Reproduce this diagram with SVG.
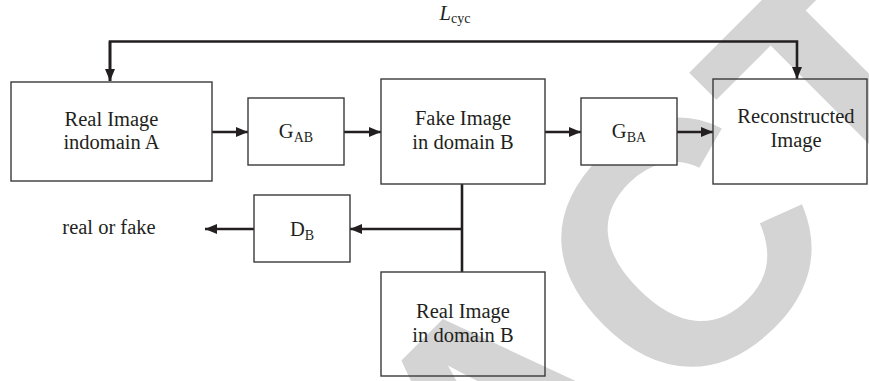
<svg xmlns="http://www.w3.org/2000/svg" width="869" height="381" viewBox="0 0 869 381">
<style>
.box{fill:none;stroke:#3a3a3a;stroke-width:1.4}
.lbl{font-family:"Liberation Serif","Times New Roman",serif;font-size:20.5px;fill:#231f20;text-anchor:middle}
.sub{font-size:14px}
.con{fill:none;stroke:#231f20;stroke-width:2.6}
.wm{font-family:"Liberation Sans",Arial,sans-serif;font-weight:bold;font-size:345px;fill:#d4d4d4;font-kerning:none}
</style>
<defs>
<marker id="ah" viewBox="0 0 12 10" refX="12" refY="5" markerWidth="12" markerHeight="10" markerUnits="userSpaceOnUse" orient="auto">
<path d="M0,0 L12,5 L0,10 Z" fill="#231f20"/>
</marker>
</defs>
<rect width="869" height="381" fill="#fff"/>
<g id="watermark" transform="translate(697,269) rotate(-45)">
<text class="wm" x="-1308" y="93">RETRACTED</text>
</g>
<g id="connectors">
<path class="con" d="M110,81 V41.5 H797 V79" marker-end="url(#ah)"/>
<path class="con" d="M110,41.5 V81" marker-end="url(#ah)"/>
<path class="con" d="M212,132 H248" marker-end="url(#ah)"/>
<path class="con" d="M344,132 H381" marker-end="url(#ah)"/>
<path class="con" d="M545,132 H581" marker-end="url(#ah)"/>
<path class="con" d="M677,132 H713" marker-end="url(#ah)"/>
<path class="con" d="M462,184 V272"/>
<path class="con" d="M463,229 H350" marker-end="url(#ah)"/>
<path class="con" d="M254,229 H205" marker-end="url(#ah)"/>
</g>
<g id="lcyc"><text class="lbl" x="455" y="20"><tspan font-style="italic">L</tspan><tspan class="sub" dy="3">cyc</tspan></text></g>
<g id="realA"><rect class="box" x="11" y="82" width="201" height="99"/><text class="lbl" x="111.5" y="126">Real Image</text><text class="lbl" x="111.5" y="149">indomain A</text></g>
<g id="gab"><rect class="box" x="248" y="98" width="96" height="67"/><text class="lbl" x="296" y="138">G<tspan class="sub" dy="4">AB</tspan></text></g>
<g id="fakeB"><rect class="box" x="381" y="79" width="164" height="105"/><text class="lbl" x="463" y="125">Fake Image</text><text class="lbl" x="463" y="149">in domain B</text></g>
<g id="gba"><rect class="box" x="581" y="98" width="96" height="67" style="fill:#fff"/><text class="lbl" x="629" y="138">G<tspan class="sub" dy="4">BA</tspan></text></g>
<g id="recon"><rect class="box" x="713" y="79" width="154" height="105"/><text class="lbl" x="796" y="123">Reconstructed</text><text class="lbl" x="796" y="147">Image</text></g>
<g id="db"><rect class="box" x="254" y="195" width="96" height="67"/><text class="lbl" x="302" y="236">D<tspan class="sub" dy="4">B</tspan></text></g>
<g id="realorfake"><text class="lbl" x="109" y="234">real or fake</text></g>
<g id="realB"><rect class="box" x="381" y="272" width="164" height="104"/><text class="lbl" x="463" y="318">Real Image</text><text class="lbl" x="463" y="342">in domain B</text></g>
</svg>
